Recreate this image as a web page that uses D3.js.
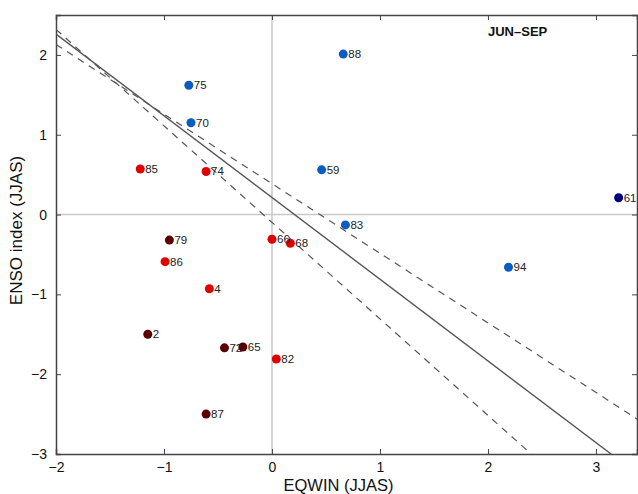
<!DOCTYPE html>
<html>
<head>
<meta charset="utf-8">
<script src="https://cdn.jsdelivr.net/npm/d3@7"></script>
<style>
  body { margin: 0; background: #fff; }
  text { font-family: "Liberation Sans", Arial, sans-serif; }
</style>
</head>
<body>
<div id="chart"></div>
<script>
// years (labels), x = EQWIN, y = ENSO, and colour group
var years = ["75", "70", "85", "74", "79", "66", "68", "88", "59", "61", "83", "86", "4", "2", "72", "65", "82", "87", "94"];
var eqwin = [-0.77, -0.75, -1.22, -0.61, -0.95, 0.00, 0.17, 0.66, 0.46, 3.21, 0.68, -0.99, -0.58, -1.15, -0.44, -0.27, 0.04, -0.61, 2.19];
var enso  = [1.62, 1.15, 0.57, 0.54, -0.32, -0.31, -0.36, 2.01, 0.56, 0.21, -0.13, -0.59, -0.93, -1.50, -1.67, -1.66, -1.81, -2.50, -0.66];
var group = ["blue", "blue", "red", "red", "dark", "red", "red", "blue", "blue", "navy", "blue", "red", "red", "dark", "dark", "dark", "red", "dark", "blue"];

// regression line and the two slope-uncertainty lines (end points)
var fitLine   = [[-2, 2.26], [3.14, -3]];
var upperLine = [[-2, 2.13], [3.38, -2.56]];
var lowerLine = [[-2, 2.32], [2.40, -3]];

var xTicks = [-2, -1, 0, 1, 2, 3];
var yTicks = [-3, -2, -1, 0, 1, 2];

var colors = {blue: "#0b5cc2", navy: "#000080", red: "#e00000", dark: "#5a0000"};

var margin = {top: 15, right: 1, bottom: 40, left: 56},
    width = 638 - margin.left - margin.right,
    height = 494 - margin.top - margin.bottom;

var svg = d3.select("#chart")
  .append("svg")
    .attr("width", 638)
    .attr("height", 494)
  .append("g")
    .attr("transform", "translate(" + margin.left + "," + margin.top + ")");

var x = d3.scaleLinear().domain([-2, 3.38]).range([0, width]);
var y = d3.scaleLinear().domain([-3, 2.5]).range([height, 0]);

svg.append("defs").append("clipPath").attr("id", "clip")
  .append("rect").attr("width", width).attr("height", height);

// zero lines
svg.append("line")
  .attr("x1", x(0)).attr("x2", x(0)).attr("y1", 0).attr("y2", height)
  .attr("stroke", "#c8c8c8").attr("stroke-width", 1.5);
svg.append("line")
  .attr("x1", 0).attr("x2", width).attr("y1", y(0)).attr("y2", y(0))
  .attr("stroke", "#c8c8c8").attr("stroke-width", 1.5);

// axes (MATLAB style: ticks inside, all four sides)
var axBottom = svg.append("g")
  .attr("transform", "translate(0," + height + ")")
  .call(d3.axisBottom(x).tickValues(xTicks).tickSize(-5).tickPadding(8).tickFormat(d3.format("d")));
var axLeft = svg.append("g")
  .call(d3.axisLeft(y).tickValues(yTicks).tickSize(-5).tickPadding(9).tickFormat(d3.format("d")));
var axTop = svg.append("g")
  .call(d3.axisTop(x).tickValues(xTicks).tickSize(-5).tickFormat(""));
var axRight = svg.append("g")
  .attr("transform", "translate(" + width + ",0)")
  .call(d3.axisRight(y).tickValues(yTicks).tickSize(-5).tickFormat(""));

[axBottom, axLeft, axTop, axRight].forEach(function(g) {
  g.select(".domain").attr("stroke", "#444").attr("stroke-width", 1.5);
  g.selectAll(".tick line").attr("stroke", "#444");
  g.selectAll(".tick text")
    .style("font-size", "14px")
    .attr("fill", "#111")
    .text(function(d) { return d < 0 ? "\u2212" + Math.abs(d) : d; });
});
axTop.selectAll(".tick text").remove();
axRight.selectAll(".tick text").remove();

// lines
var line = d3.line()
  .x(function(d) { return x(d[0]) })
  .y(function(d) { return y(d[1]) });
var lines = svg.append("g").attr("clip-path", "url(#clip)");
lines.append("path")
  .attr("d", line(fitLine))
  .attr("stroke", "#555").attr("stroke-width", 1.4).attr("fill", "none");
[upperLine, lowerLine].forEach(function(l) {
  lines.append("path")
    .attr("d", line(l))
    .attr("stroke", "#555").attr("stroke-width", 1.2).attr("fill", "none")
    .attr("stroke-dasharray", "7,6");
});

// points
var pts = years.map(function(yr, i) {
  return {year: yr, x: eqwin[i], y: enso[i], c: colors[group[i]]};
});
svg.selectAll("circle.pt")
  .data(pts)
  .enter()
  .append("circle")
    .attr("class", "pt")
    .attr("cx", function(d) { return x(d.x) })
    .attr("cy", function(d) { return y(d.y) })
    .attr("r", 4.5)
    .attr("fill", function(d) { return d.c });
svg.selectAll("text.lbl")
  .data(pts)
  .enter()
  .append("text")
    .attr("class", "lbl")
    .attr("x", function(d) { return x(d.x) + 5 })
    .attr("y", function(d) { return y(d.y) + 4 })
    .style("font-size", "11.5px")
    .attr("fill", "#222")
    .text(function(d) { return d.year });

// title inside the box
svg.append("text")
  .attr("x", 432).attr("y", 21)
  .style("font-size", "13px").style("font-weight", "bold")
  .attr("fill", "#111")
  .text("JUN\u2013SEP");

// axis labels
svg.append("text")
  .attr("x", width / 2 - 8).attr("y", height + 37)
  .attr("text-anchor", "middle")
  .style("font-size", "16.5px").attr("fill", "#111")
  .text("EQWIN (JJAS)");
svg.append("text")
  .attr("transform", "translate(-34," + (height / 2 - 4) + ") rotate(-90)")
  .attr("text-anchor", "middle")
  .style("font-size", "17px").attr("fill", "#111")
  .text("ENSO index (JJAS)");
</script>
</body>
</html>
